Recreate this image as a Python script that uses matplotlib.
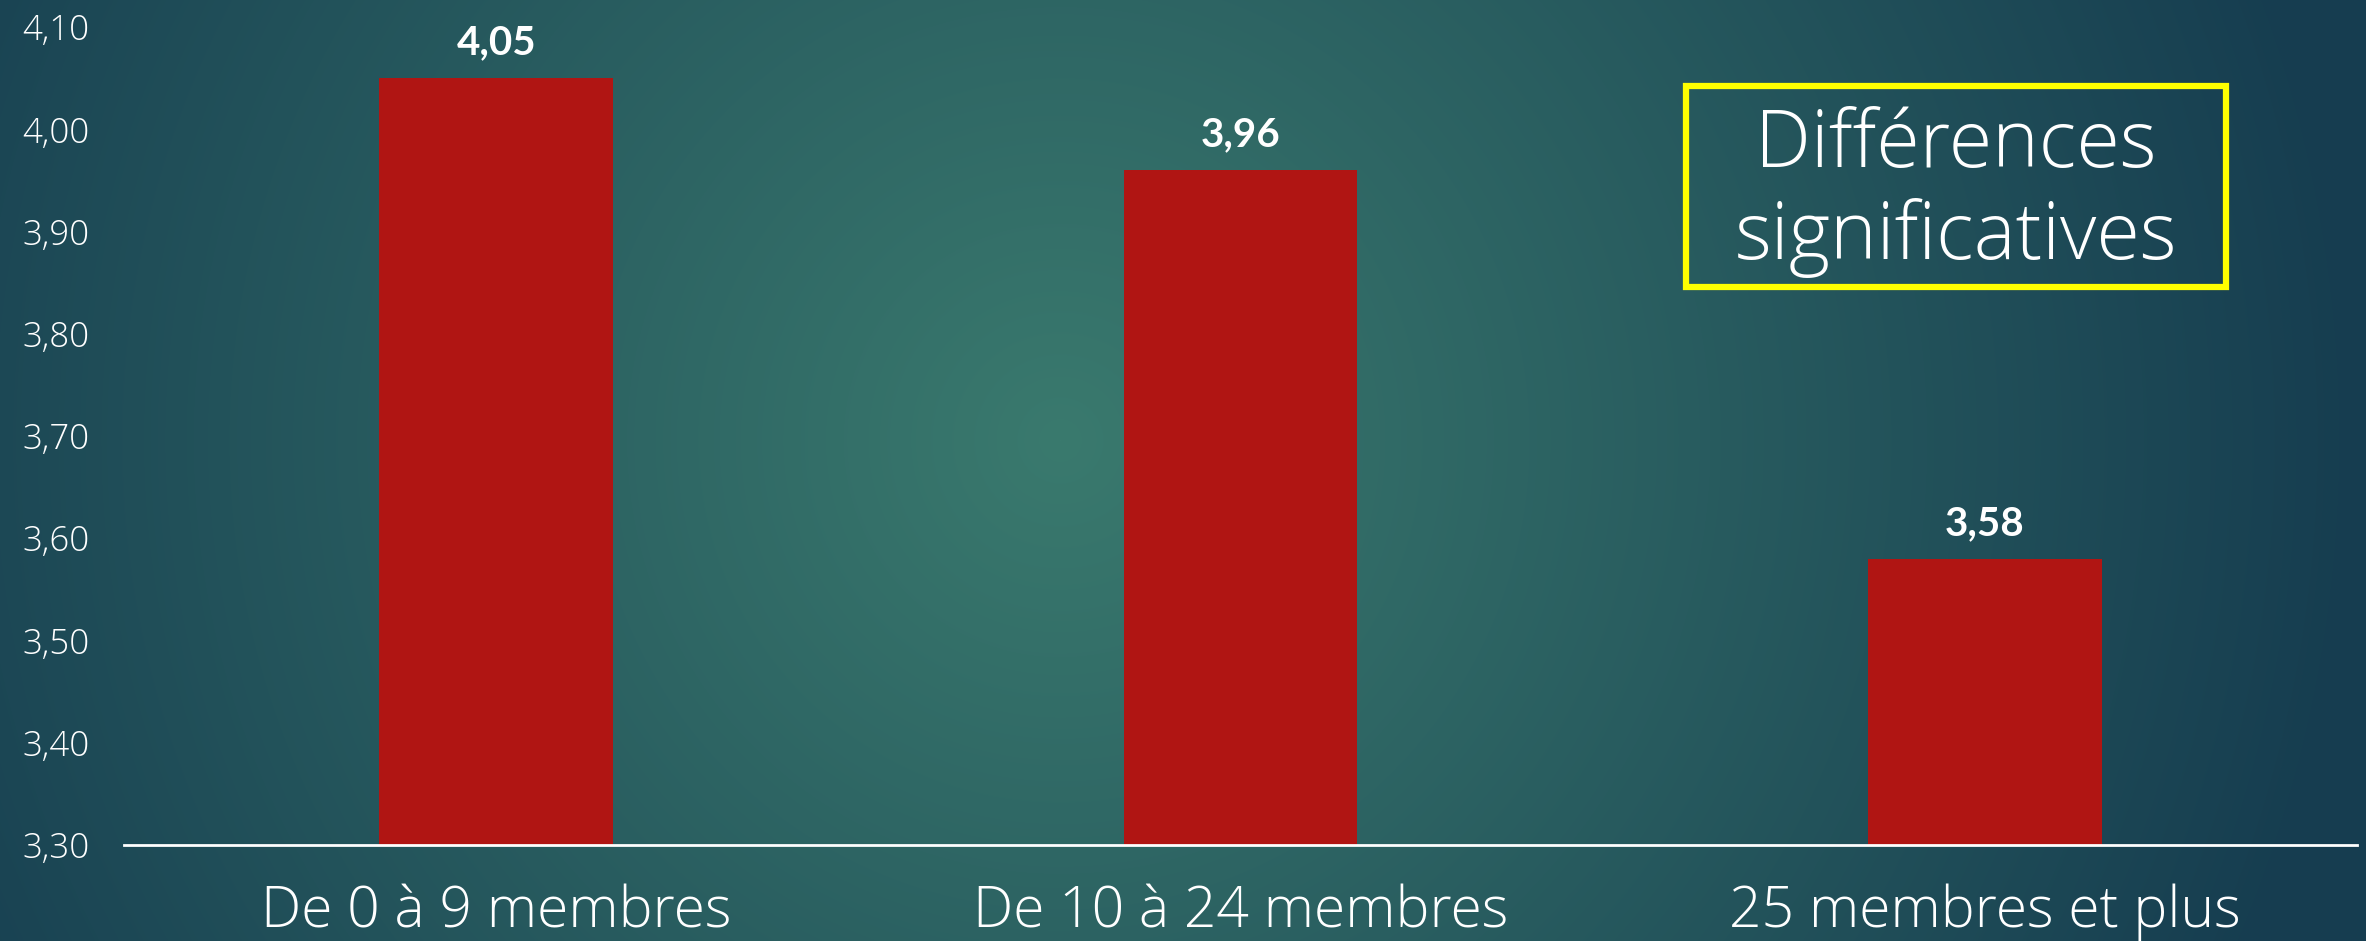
import numpy as np
import matplotlib
matplotlib.use('Agg')
import matplotlib.pyplot as plt
from matplotlib.patches import Rectangle

categories = ['De 0 à 9 membres', 'De 10 à 24 membres', '25 membres et plus']
values = [4.05, 3.96, 3.58]
y_ticks = [3.30, 3.40, 3.50, 3.60, 3.70, 3.80, 3.90, 4.00, 4.10]
note = 'Différences\nsignificatives'

W, H = 2366, 941
fig = plt.figure(figsize=(W / 100, H / 100), dpi=100)

# radial background, light teal in the middle, dark blue at the borders
bg = fig.add_axes([0, 0, 1, 1], zorder=-1)
yy, xx = np.mgrid[0:H, 0:W]
d = np.sqrt((xx - 1060) ** 2 + (yy - 440) ** 2) / 1300
t = np.clip(d, 0, 1)[..., None]
c_in = np.array([58, 122, 110]) / 255
c_out = np.array([22, 61, 80]) / 255
img = c_in * (1 - t) + c_out * t
bg.imshow(img, aspect='auto', interpolation='bilinear')
bg.axis('off')

thin = ['Open Sans', 'DejaVu Sans']

ax = fig.add_axes([124 / W, 1 - 845 / H, (2357 - 124) / W, (845 - 27) / H])
ax.set_facecolor('none')
x = np.arange(len(categories))
bars = ax.bar(x, values, width=0.314, color='#B01513', zorder=2)
ax.set_xlim(-0.5, 2.5)
ax.set_ylim(3.3, 4.1)
ax.set_yticks(y_ticks)
ax.set_yticklabels([('%.2f' % v).replace('.', ',') for v in y_ticks])
ax.set_xticks(x)
ax.set_xticklabels(categories)
for s in ['top', 'right', 'left']:
    ax.spines[s].set_visible(False)
ax.spines['bottom'].set_color('white')
ax.spines['bottom'].set_linewidth(2)
ax.spines['bottom'].set_zorder(3)
ax.tick_params(axis='both', length=0, colors='white')
ax.tick_params(axis='y', pad=25)
ax.tick_params(axis='x', pad=28)
for lab in ax.get_yticklabels():
    lab.set_fontfamily(thin)
    lab.set_fontweight('light')
    lab.set_fontsize(25)
for lab in ax.get_xticklabels():
    lab.set_fontfamily(thin)
    lab.set_fontweight('light')
    lab.set_fontsize(41)

for b, v in zip(bars, values):
    ax.annotate(('%.2f' % v).replace('.', ','), (b.get_x() + b.get_width() / 2, v),
                xytext=(0, 12), textcoords='offset points', ha='center', va='bottom',
                color='white', fontsize=29, fontweight='bold', family=['Lato', 'DejaVu Sans'])

# yellow framed note
fig.patches.append(Rectangle((1686 / W, 1 - 287 / H), 540 / W, 201 / H,
                             transform=fig.transFigure, fill=False,
                             edgecolor='#FFFF00', linewidth=4.5))
fig.text(1956 / W, 1 - 192 / H, note, ha='center', va='center', color='white',
         fontsize=57, fontweight='light', family=thin, linespacing=1.2)

fig.savefig('out.png', dpi=100)
